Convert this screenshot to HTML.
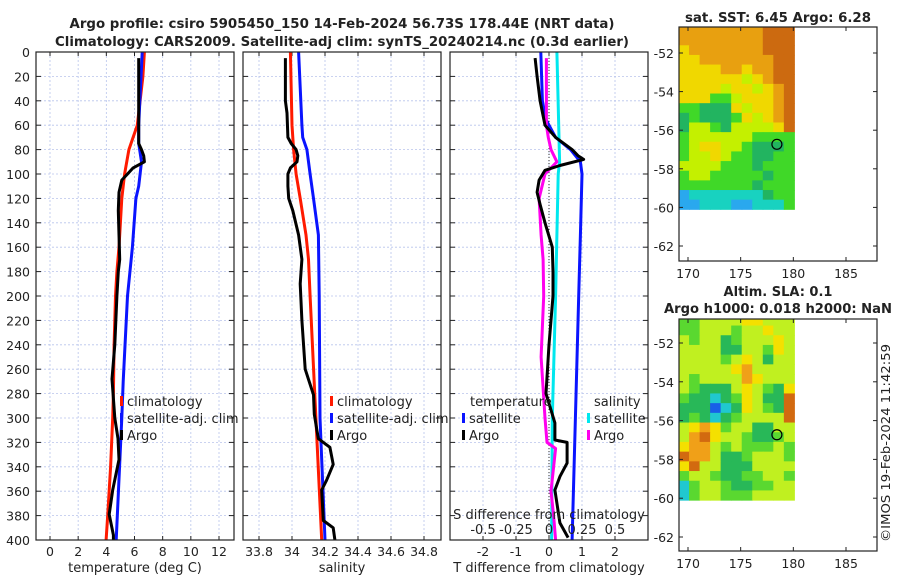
<!DOCTYPE html>
<html><head><meta charset="utf-8"><style>
body{margin:0;background:#fff}
svg text{font-family:"DejaVu Sans","Liberation Sans",sans-serif;fill:#222}
</style></head><body>
<svg id="s" width="900" height="580" viewBox="0 0 900 580" xmlns="http://www.w3.org/2000/svg">
<text x="342" y="28" text-anchor="middle" font-size="13.5" font-weight="bold" textLength="545" lengthAdjust="spacingAndGlyphs">Argo profile: csiro 5905450_150 14-Feb-2024 56.73S 178.44E (NRT data)</text>
<text x="342" y="46" text-anchor="middle" font-size="13.5" font-weight="bold" textLength="574" lengthAdjust="spacingAndGlyphs">Climatology: CARS2009. Satellite-adj clim: synTS_20240214.nc (0.3d earlier)</text>
<text x="778" y="22" text-anchor="middle" font-size="13" font-weight="bold" textLength="186" lengthAdjust="spacingAndGlyphs">sat. SST: 6.45 Argo: 6.28</text>
<text x="778" y="296" text-anchor="middle" font-size="13" font-weight="bold">Altim. SLA: 0.1</text>
<text x="778" y="313" text-anchor="middle" font-size="13" font-weight="bold" textLength="228" lengthAdjust="spacingAndGlyphs">Argo h1000: 0.018 h2000: NaN</text>
<text transform="translate(890,542) rotate(-90)" font-size="12.5" textLength="198" lengthAdjust="spacingAndGlyphs">©IMOS 19-Feb-2024 11:42:59</text>
</svg>
<script>
// ---------- data ----------
const depthTicks=[0,20,40,60,80,100,120,140,160,180,200,220,240,260,280,300,320,340,360,380,400];
const tempTicks=[0,2,4,6,8,10,12];
const salTicks=[33.8,34,34.2,34.4,34.6,34.8];
const salTickLabels=["33.8","34","34.2","34.4","34.6","34.8"];
const tdiffTicks=[-2,-1,0,1,2];
const sdiffTicks=[-0.5,-0.25,0,0.25,0.5];
const sdiffTickLabels=["-0.5","-0.25","0","0.25","0.5"];

const climTDepth=[0,20,40,60,70,80,100,120,140,160,180,200,240,280,300,340,380,400];
const climTVal=[6.7,6.6,6.4,6.2,5.9,5.6,5.3,5.1,5.0,4.9,4.75,4.65,4.55,4.5,4.45,4.3,4.1,3.98];
const satTDepth=[0,60,75,90,110,120,160,200,270,300,400];
const satTVal=[6.55,6.3,6.3,6.5,6.3,6.1,5.85,5.5,5.2,5.1,4.7];
const argoTDepth=[5,60,75,80,85,90,95,100,105,115,130,150,170,180,200,240,268,300,317,334,359,379,396,400];
const argoTVal=[6.3,6.3,6.3,6.5,6.65,6.7,5.9,5.5,5.1,4.9,4.85,4.9,4.95,4.85,4.75,4.6,4.4,4.6,4.83,4.9,4.45,4.2,4.5,4.5];

const climSDepth=[0,60,80,100,120,150,170,200,300,400];
const climSVal=[33.99,34.0,34.01,34.025,34.05,34.085,34.10,34.11,34.145,34.18];
const satSDepth=[0,60,70,80,100,120,150,200,300,400];
const satSVal=[34.04,34.06,34.065,34.09,34.11,34.13,34.16,34.165,34.17,34.2];
const argoSDepth=[5,40,50,70,75,80,85,90,95,100,110,120,130,150,170,190,220,260,281,297,309,317,324,338,351,359,384,390,400];
const argoSVal=[33.96,33.96,33.97,33.975,33.995,34.025,34.035,34.03,33.99,33.975,33.975,33.98,34.005,34.04,34.06,34.05,34.06,34.08,34.13,34.135,34.15,34.16,34.23,34.25,34.21,34.18,34.19,34.25,34.26];

const dTsatDepth=[0,40,55,70,80,90,100,150,200,300,400];
const dTsatVal=[-0.25,-0.2,-0.1,0.2,0.65,0.95,1.0,0.95,0.9,0.8,0.7];
const dTargoDepth=[5,20,40,60,70,80,85,88,93,97,105,115,125,140,160,180,200,240,280,304,318,320,337,348,359,386,398];
const dTargoVal=[-0.42,-0.36,-0.27,-0.12,0.2,0.7,0.88,1.05,0.33,-0.12,-0.3,-0.36,-0.27,-0.12,0.1,0.12,0.12,0.0,-0.09,0.18,0.18,0.55,0.55,0.33,0.18,0.33,0.58];
const dSsatDepth=[0,90,100,200,300,400];
const dSsatVal=[0.06,0.08,0.07,0.05,0.025,0.02];
const dSargoDepth=[5,60,70,80,90,95,100,120,150,170,200,250,300,320,325,360,380,400];
const dSargoVal=[-0.02,-0.02,-0.005,0.015,0.06,0.015,-0.03,-0.075,-0.06,-0.045,-0.04,-0.06,-0.03,-0.015,0.05,0.015,0.035,0.05];

const latTicks=[-52,-54,-56,-58,-60,-62];
const lonTicks=[170,175,180,185];
// map cells: rows from north (-50.6) southward in 0.5 deg, cols 169..180 in 1 deg
const sstRows=["OOOOOOOORRR","OOOOOOOORRR","YOOOOOOORRR","YYOOOOOOORR","YYYYOOYOORR","YYYYYYLYORR","YYYYLYYLYOR","YYYGGLYYYOR","GGDDDYLYYOR","DGDDDGYLYOR","DLLGDLLLLYR","GLLLLLLGGGG","GLYYLLGDDDG","GLLYLGGDDGG","LLLLGGGDGGG","GLLGGGGGDGG","GGGGGGGDGGG","BCCCCCCCDGG","BBCCCBBCCCG"];
const slaRows=["GGLLLLYYLLL","GGLLLGLLYLL","LGLLDGLLLYL","LLLLDDLLGYL","LLLLGLYLDLL","LLLLLYOLLLL","LGLLLLOYLLL","LGDDDLYLGDY","GDDCDGYLDDR","DDDBCDYLGDR","DGDCDGLLLLR","LYOYGLLDDLL","LORYLLGDDGL","YOOLGLGGGLG","ROOLDDGLLLG","YRLLDDDLLLL","GLLGDDGGLLG","CGLLGDDGGLL","CGLLGGGLLLL"];
const argoLon=178.44, argoLat=-56.73;

// ---------- drawing ----------
const NS="http://www.w3.org/2000/svg";
const svg=document.getElementById('s');
function el(t,a,p){const e=document.createElementNS(NS,t);for(const k in a)e.setAttribute(k,a[k]);(p||svg).appendChild(e);return e;}
function txt(x,y,s,a,p){const e=el('text',Object.assign({x:x,y:y,'font-size':12.5},a||{}),p);e.textContent=s;return e;}

const Y0=52,Y1=540;
const yD=d=>Y0+(d/400)*(Y1-Y0);
function lin(v0,p0,v1,p1){return v=>p0+(v-v0)*(p1-p0)/(v1-v0);}
const xT=lin(0,50,12,219);
const xS=lin(34,292,34.2,325);
const xDT=lin(0,549,1,582);
const xDS=lin(0,549,0.25,582);

function panel(name,L,R,xf,ticks,labels,title){
  const g=el('g',{}); 
  
  
  for(const v of ticks){const x=xf(v);
    const gl=el('line',{x1:x,x2:x,y1:Y0,y2:Y1,stroke:'#b8c4ec','stroke-width':0.8,'stroke-dasharray':'2,2'},g);
    
    el('line',{x1:x,x2:x,y1:Y1,y2:Y1-4,stroke:'#222'},g);el('line',{x1:x,x2:x,y1:Y0,y2:Y0+4,stroke:'#222'},g);}
  for(const d of depthTicks){const y=yD(d);
    const gl=el('line',{x1:L,x2:R,y1:y,y2:y,stroke:'#b8c4ec','stroke-width':0.8,'stroke-dasharray':'2,2'},g);
    
    el('line',{x1:L,x2:L+5,y1:y,y2:y,stroke:'#222'},g);el('line',{x1:R,x2:R-5,y1:y,y2:y,stroke:'#222'},g);}
  ticks.forEach((v,i)=>{const t=txt(xf(v),556,labels[i],{'text-anchor':'middle'},g);
    });
  const tt=txt((L+R)/2,572,title,{'text-anchor':'middle','font-size':13},g);
  
  return g;
}
function frame(L,R,g){const f=el('rect',{x:L,y:Y0,width:R-L,height:Y1-Y0,fill:'none',stroke:'#222','stroke-width':1.2},g);
  }
function series(g,depths,vals,xf,color,name){
  const pts=depths.map((d,i)=>xf(vals[i]).toFixed(1)+','+yD(d).toFixed(1)).join(' ');
  const p=el('polyline',{points:pts,fill:'none',stroke:color,'stroke-width':3,'stroke-linejoin':'round'},g);
  
}
function legend(g,x,y,color,label,name){
  const m=el('rect',{x:x,y:y-10,width:3,height:10,fill:color},g);
  
  const t=txt(x+7,y,label,{'font-size':13},g);
  
}

// depth labels
depthTicks.forEach(d=>{const t=txt(30,yD(d)+5,String(d),{'text-anchor':'end'});
  });

// panel 1
const g1=panel('temperature-panel',36,234,xT,tempTicks,tempTicks.map(String),'temperature (deg C)');
series(g1,climTDepth,climTVal,xT,'#ff1a00','temp-climatology-line');
series(g1,satTDepth,satTVal,xT,'#0a14ff','temp-satellite-line');
series(g1,argoTDepth,argoTVal,xT,'#000','temp-argo-line');
frame(36,234,g1);
legend(g1,120,406,'#ff1a00','climatology','legend-climatology');
legend(g1,120,423,'#0a14ff','satellite-adj. clim','legend-satellite');
legend(g1,120,440,'#000','Argo','legend-argo');

// panel 2
const g2=panel('salinity-panel',243,441,xS,salTicks,salTickLabels,'salinity');
series(g2,climSDepth,climSVal,xS,'#ff1a00','sal-climatology-line');
series(g2,satSDepth,satSVal,xS,'#0a14ff','sal-satellite-line');
series(g2,argoSDepth,argoSVal,xS,'#000','sal-argo-line');
legend(g2,330,406,'#ff1a00','climatology','legend-climatology-2');
legend(g2,330,423,'#0a14ff','satellite-adj. clim','legend-satellite-2');
legend(g2,330,440,'#000','Argo','legend-argo-2');
frame(243,441,g2);

// panel 3
const g3=panel('difference-panel',450,648,xDT,tdiffTicks,tdiffTicks.map(String),'T difference from climatology');
const zl=el('line',{x1:xDT(0),x2:xDT(0),y1:Y0,y2:Y1,stroke:'#333','stroke-width':1,'stroke-dasharray':'1,2'},g3);

series(g3,dSsatDepth,dSsatVal,xDS,'#00e8ee','sdiff-satellite-line');
series(g3,dTsatDepth,dTsatVal,xDT,'#0a14ff','tdiff-satellite-line');
series(g3,dSargoDepth,dSargoVal,xDS,'#ff00ee','sdiff-argo-line');
series(g3,dTargoDepth,dTargoVal,xDT,'#000','tdiff-argo-line');
frame(450,648,g3);
let t=txt(470,406,'temperature',{'font-size':13},g3);
t=txt(594,406,'salinity',{'font-size':13},g3);
legend(g3,462,423,'#0a14ff','satellite','legend-t-satellite');
legend(g3,462,440,'#000','Argo','legend-t-argo');
legend(g3,587,423,'#00e8ee','satellite','legend-s-satellite');
legend(g3,587,440,'#ff00ee','Argo','legend-s-argo');
t=txt(549,519,'S difference from climatology',{'text-anchor':'middle','font-size':13},g3);
sdiffTicks.forEach((v,i)=>{const e=txt(xDS(v),534,sdiffTickLabels[i],{'text-anchor':'middle','font-size':13},g3);
  });

// maps
const pal={R:'#cc6a10',O:'#e8a010',Y:'#f0d800',L:'#c4f000',G:'#40d828',D:'#22b460',C:'#18d2c0',B:'#2aa8ee'};
const palSla={R:'#d26a10',O:'#f0a018',Y:'#f4e000',L:'#c0f020',G:'#5ad830',D:'#28b858',C:'#20c8d0',B:'#1860e8'};
function map(name,top,bottom,latA,yA,latB,yB,rows,colors){
  const L=679,R=877;
  const xL=lin(170,688,185,846), yL=lin(latA,yA,latB,yB);
  const g=el('g',{});
  
  
  const lat0=-50.6;
  rows.forEach((row,r)=>{for(let c=0;c<row.length;c++){
    const x0=xL(169.1+c), x1=xL(169.1+c+1), y0=yL(lat0-r*0.5), y1=yL(lat0-(r+1)*0.5);
    const cell=el('rect',{x:x0,y:Math.max(top,y0),width:x1-x0+0.5,height:y1-Math.max(top,y0)+0.5,fill:colors[row[c]]},g);
    
    
  }});
  const ci=el('circle',{cx:xL(argoLon),cy:yL(argoLat),r:5,fill:'none',stroke:'#000','stroke-width':1.2},g);
  
  el('rect',{x:L,y:top,width:R-L,height:bottom-top,fill:'none',stroke:'#222','stroke-width':1.2},g);
  latTicks.forEach(v=>{const y=yL(v);el('line',{x1:L,x2:L+4,y1:y,y2:y,stroke:'#222'},g);el('line',{x1:R,x2:R-4,y1:y,y2:y,stroke:'#222'},g);
    const e=txt(L-5,y+5,String(v),{'text-anchor':'end'},g);});
  lonTicks.forEach(v=>{const x=xL(v);el('line',{x1:x,x2:x,y1:bottom,y2:bottom-4,stroke:'#222'},g);el('line',{x1:x,x2:x,y1:top,y2:top+4,stroke:'#222'},g);
    const e=txt(x,bottom+17,String(v),{'text-anchor':'middle'},g);});
}
map('sst-map',27,261,-52,53,-62,246,sstRows,pal);
map('sla-map',319,551,-52,343,-62,537,slaRows,palSla);
</script>
</body></html>
